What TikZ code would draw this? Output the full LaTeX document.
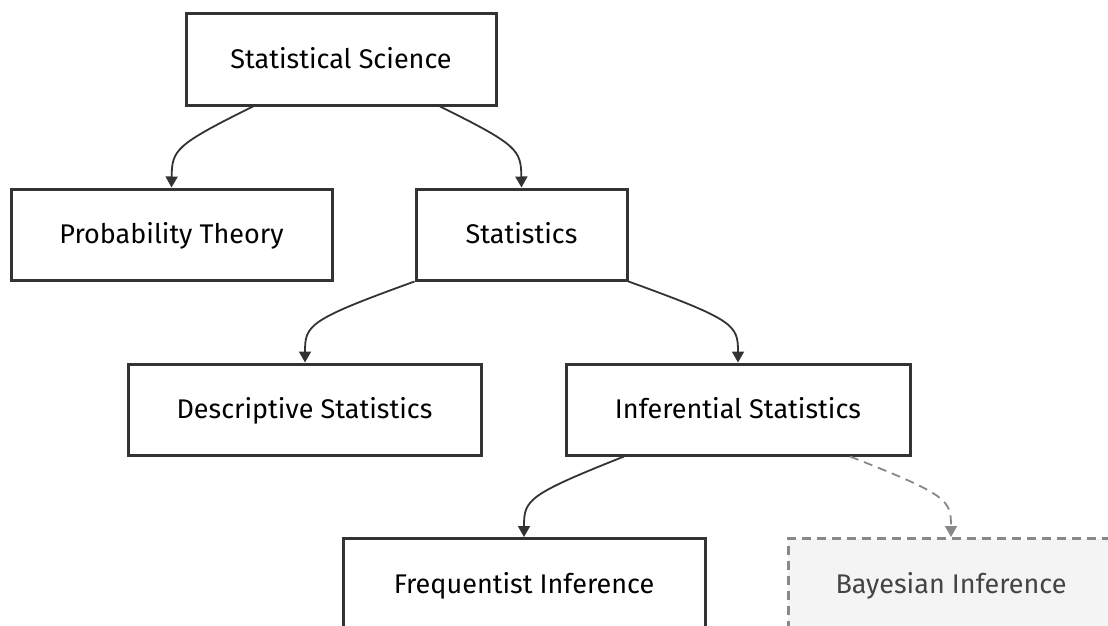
\documentclass[tikz,border=0pt]{standalone}
\usepackage{fontspec}
\setmainfont{Fira Sans}
\usetikzlibrary{arrows.meta}
\definecolor{edge}{HTML}{333333}
\definecolor{bayfill}{HTML}{F4F4F4}
\definecolor{baydraw}{HTML}{888888}
\definecolor{baytext}{HTML}{444444}
\begin{document}
\begin{tikzpicture}[x=1pt,y=-1pt,
  box/.style={draw=edge,line width=3pt,fill=white,minimum height=91pt,inner sep=0pt,text height=18.6pt,text depth=0pt,font=\fontsize{27}{31}\selectfont,text=black},
  dbox/.style={box,draw=baydraw,fill=bayfill,dashed,dash pattern=on 9pt off 6pt,text=baytext},
  link/.style={draw=edge,line width=1.8pt,-{Triangle[width=12pt,length=11pt]}},
  dlink/.style={link,draw=baydraw,dash pattern=on 9pt off 6pt}]
\useasboundingbox (0,0) rectangle (1108,626);
\clip (0,0) rectangle (1108,626);
\fill[white] (0,0) rectangle (1108,626);
\node[box,minimum width=310pt] (ss) at (341,59.5) {Statistical Science};
\node[box,minimum width=321pt] (pt) at (171.5,234.5) {Probability Theory};
\node[box,minimum width=211pt] (st) at (521.5,234.5) {Statistics};
\node[box,minimum width=353pt] (ds) at (304.5,409.5) {Descriptive Statistics};
\node[box,minimum width=344pt] (is) at (738,409.5) {Inferential Statistics};
\node[box,minimum width=362pt] (fi) at (524,584) {Frequentist Inference};
\node[dbox,minimum width=326pt] (bi) at (951,584) {Bayesian Inference};
\draw[link] ([xshift=-88pt]ss.south) .. controls (175,145) and (172,150) .. (pt.north);
\draw[link] ([xshift=99pt]ss.south) .. controls (518,145) and (521,150) .. (st.north);
\draw[link] (st.south west) .. controls (308,320) and (305,325) .. ([xshift=0.5pt]ds.north);
\draw[link] (st.south east) .. controls (735,320) and (738,325) .. (is.north);
\draw[link] ([xshift=-114pt]is.south) .. controls (527,495) and (524,500) .. (fi.north);
\draw[dlink] ([xshift=112pt]is.south) .. controls (948,495) and (951,500) .. (bi.north);
\end{tikzpicture}
\end{document}
